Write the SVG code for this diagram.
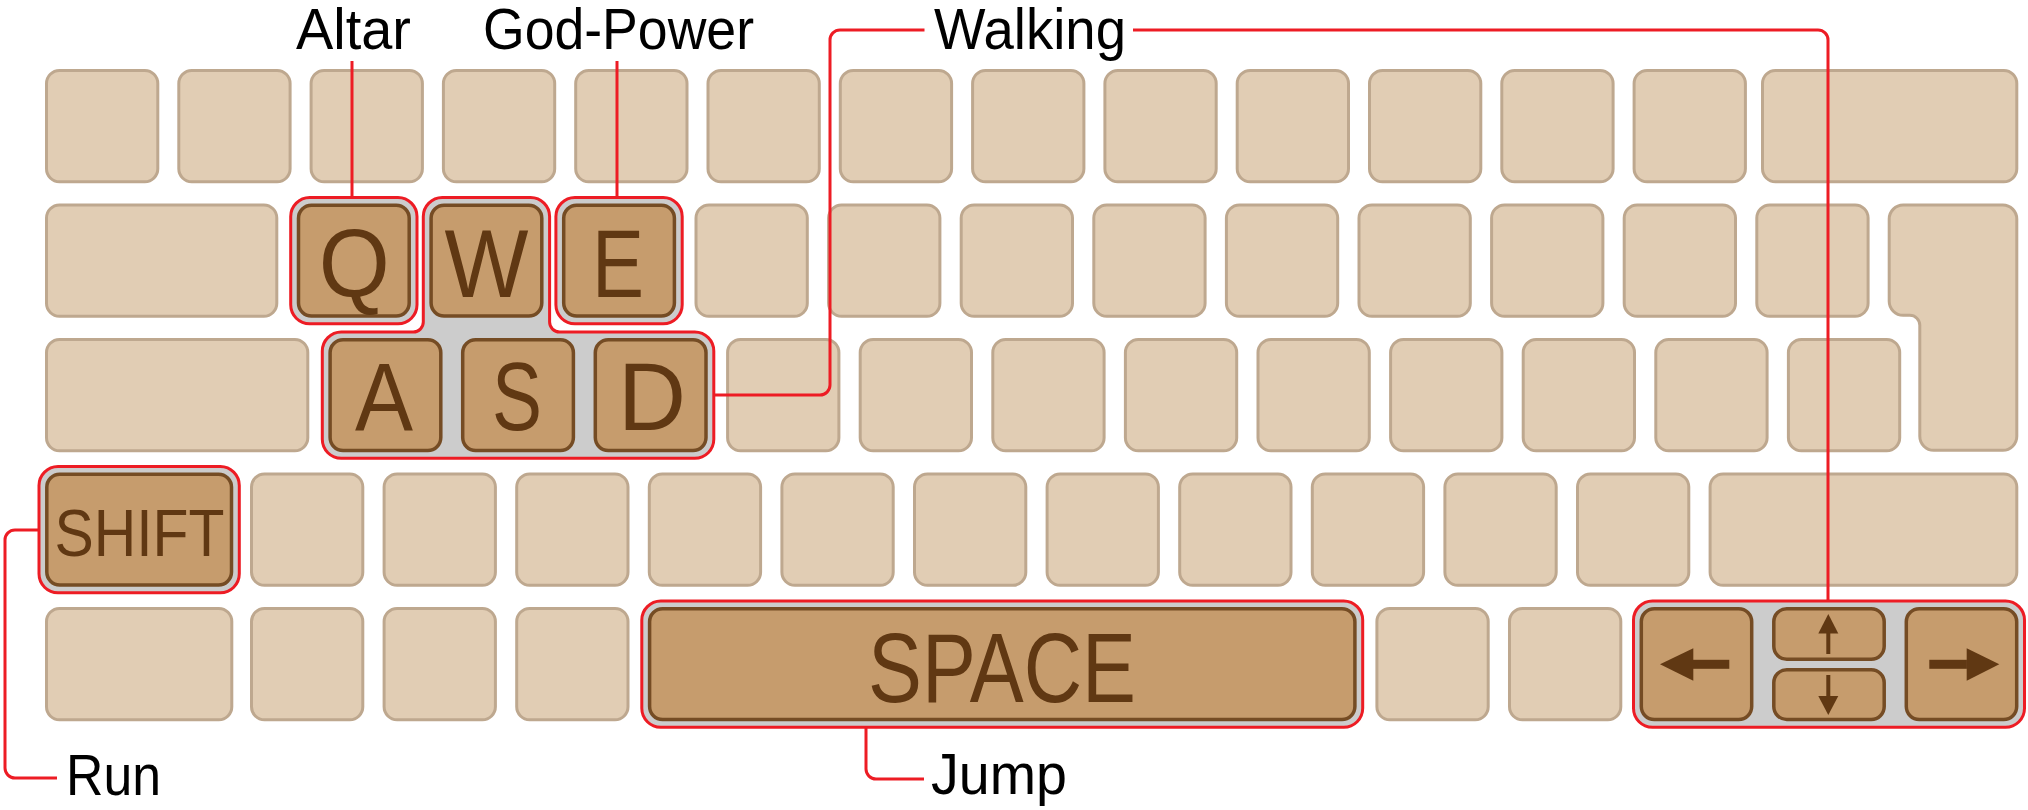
<svg xmlns="http://www.w3.org/2000/svg" width="2028" height="810" viewBox="0 0 2028 810">
<style>
.k{fill:#E1CDB4;stroke:#BEA88F;stroke-width:3}
.h{fill:#C69C6D;stroke:#754C24;stroke-width:3.5}
.halo{fill:#CCCCCC;stroke:#ED1C24;stroke-width:3}
.con{fill:none;stroke:#ED1C24;stroke-width:3}
.lbl{font-family:"Liberation Sans",Arial,sans-serif;font-size:58px;fill:#000}
.kt{font-family:"Liberation Sans",Arial,sans-serif;fill:#603813;text-anchor:middle}
.ar{fill:#603813}
</style>
<rect width="2028" height="810" fill="#fff"/>
<g id="plain-keys">
<!-- row 1 -->
<rect class="k" x="46.5" y="70.5" width="111.3" height="111.3" rx="13"/>
<rect class="k" x="178.8" y="70.5" width="111.3" height="111.3" rx="13"/>
<rect class="k" x="311.1" y="70.5" width="111.3" height="111.3" rx="13"/>
<rect class="k" x="443.4" y="70.5" width="111.3" height="111.3" rx="13"/>
<rect class="k" x="575.7" y="70.5" width="111.3" height="111.3" rx="13"/>
<rect class="k" x="708" y="70.5" width="111.3" height="111.3" rx="13"/>
<rect class="k" x="840.3" y="70.5" width="111.3" height="111.3" rx="13"/>
<rect class="k" x="972.6" y="70.5" width="111.3" height="111.3" rx="13"/>
<rect class="k" x="1104.9" y="70.5" width="111.3" height="111.3" rx="13"/>
<rect class="k" x="1237.2" y="70.5" width="111.3" height="111.3" rx="13"/>
<rect class="k" x="1369.5" y="70.5" width="111.3" height="111.3" rx="13"/>
<rect class="k" x="1501.8" y="70.5" width="111.3" height="111.3" rx="13"/>
<rect class="k" x="1634.1" y="70.5" width="111.3" height="111.3" rx="13"/>
<rect class="k" x="1762.5" y="70.5" width="254.3" height="111.3" rx="13"/>
<!-- row 2 -->
<rect class="k" x="46.5" y="205" width="230.3" height="111.3" rx="13"/>
<rect class="k" x="696" y="205" width="111.3" height="111.3" rx="13"/>
<rect class="k" x="828.6" y="205" width="111.3" height="111.3" rx="13"/>
<rect class="k" x="961.2" y="205" width="111.3" height="111.3" rx="13"/>
<rect class="k" x="1093.8" y="205" width="111.3" height="111.3" rx="13"/>
<rect class="k" x="1226.4" y="205" width="111.3" height="111.3" rx="13"/>
<rect class="k" x="1359" y="205" width="111.3" height="111.3" rx="13"/>
<rect class="k" x="1491.6" y="205" width="111.3" height="111.3" rx="13"/>
<rect class="k" x="1624.2" y="205" width="111.3" height="111.3" rx="13"/>
<rect class="k" x="1756.8" y="205" width="111.3" height="111.3" rx="13"/>
<path class="k" d="M1903.2,205 H2002.8 A14,14 0 0 1 2016.8,219 V436.3 A14,14 0 0 1 2002.8,450.3 H1933.8 A14,14 0 0 1 1919.8,436.3 V325.3 A10,10 0 0 0 1909.8,315.3 H1903.2 A14,14 0 0 1 1889.2,301.3 V219 A14,14 0 0 1 1903.2,205 Z"/>
<!-- row 3 -->
<rect class="k" x="46.5" y="339.5" width="261.3" height="111.3" rx="13"/>
<rect class="k" x="727.6" y="339.5" width="111.3" height="111.3" rx="13"/>
<rect class="k" x="860.2" y="339.5" width="111.3" height="111.3" rx="13"/>
<rect class="k" x="992.8" y="339.5" width="111.3" height="111.3" rx="13"/>
<rect class="k" x="1125.4" y="339.5" width="111.3" height="111.3" rx="13"/>
<rect class="k" x="1258" y="339.5" width="111.3" height="111.3" rx="13"/>
<rect class="k" x="1390.6" y="339.5" width="111.3" height="111.3" rx="13"/>
<rect class="k" x="1523.2" y="339.5" width="111.3" height="111.3" rx="13"/>
<rect class="k" x="1655.8" y="339.5" width="111.3" height="111.3" rx="13"/>
<rect class="k" x="1788.4" y="339.5" width="111.3" height="111.3" rx="13"/>
<!-- row 4 -->
<rect class="k" x="251.5" y="474" width="111.3" height="111.3" rx="13"/>
<rect class="k" x="384.1" y="474" width="111.3" height="111.3" rx="13"/>
<rect class="k" x="516.7" y="474" width="111.3" height="111.3" rx="13"/>
<rect class="k" x="649.3" y="474" width="111.3" height="111.3" rx="13"/>
<rect class="k" x="781.9" y="474" width="111.3" height="111.3" rx="13"/>
<rect class="k" x="914.5" y="474" width="111.3" height="111.3" rx="13"/>
<rect class="k" x="1047.1" y="474" width="111.3" height="111.3" rx="13"/>
<rect class="k" x="1179.7" y="474" width="111.3" height="111.3" rx="13"/>
<rect class="k" x="1312.3" y="474" width="111.3" height="111.3" rx="13"/>
<rect class="k" x="1444.9" y="474" width="111.3" height="111.3" rx="13"/>
<rect class="k" x="1577.5" y="474" width="111.3" height="111.3" rx="13"/>
<rect class="k" x="1710.1" y="474" width="306.7" height="111.3" rx="13"/>
<!-- row 5 -->
<rect class="k" x="46.5" y="608.5" width="185.3" height="111.3" rx="13"/>
<rect class="k" x="251.5" y="608.5" width="111.3" height="111.3" rx="13"/>
<rect class="k" x="384.1" y="608.5" width="111.3" height="111.3" rx="13"/>
<rect class="k" x="516.7" y="608.5" width="111.3" height="111.3" rx="13"/>
<rect class="k" x="1376.9" y="608.5" width="111.3" height="111.3" rx="13"/>
<rect class="k" x="1509.5" y="608.5" width="111.3" height="111.3" rx="13"/>
</g>

<g id="altar-key">
<rect class="halo" x="290.7" y="197.5" width="126.3" height="126.3" rx="19"/>
<rect class="h" x="298.5" y="205.3" width="110.7" height="110.7" rx="13"/>
<text class="kt" x="354.2" y="296.7" font-size="97" textLength="71" lengthAdjust="spacingAndGlyphs">Q</text>
</g>
<g id="godpower-key">
<rect class="halo" x="555.9" y="197.5" width="126.3" height="126.3" rx="19"/>
<rect class="h" x="563.7" y="205.3" width="110.7" height="110.7" rx="13"/>
<text class="kt" x="618" y="296.7" font-size="97" textLength="52" lengthAdjust="spacingAndGlyphs">E</text>
</g>
<g id="walking-keys">
<path class="halo" d="M341.3,332 H413.3 A10,10 0 0 0 423.3,322 V216.5 A19,19 0 0 1 442.3,197.5 H530.6 A19,19 0 0 1 549.6,216.5 V322 A10,10 0 0 0 559.6,332 H694.8 A19,19 0 0 1 713.8,351 V439.3 A19,19 0 0 1 694.8,458.3 H341.3 A19,19 0 0 1 322.3,439.3 V351 A19,19 0 0 1 341.3,332 Z"/>
<rect class="h" x="431.1" y="205.3" width="110.7" height="110.7" rx="13"/>
<rect class="h" x="330.1" y="339.8" width="110.7" height="110.7" rx="13"/>
<rect class="h" x="462.7" y="339.8" width="110.7" height="110.7" rx="13"/>
<rect class="h" x="595.3" y="339.8" width="110.7" height="110.7" rx="13"/>
<text class="kt" x="486.5" y="296.7" font-size="97" textLength="84" lengthAdjust="spacingAndGlyphs">W</text>
<text class="kt" x="384" y="430" font-size="97" textLength="58" lengthAdjust="spacingAndGlyphs">A</text>
<text class="kt" x="517" y="430" font-size="97" textLength="50" lengthAdjust="spacingAndGlyphs">S</text>
<text class="kt" x="652" y="430" font-size="97" textLength="68" lengthAdjust="spacingAndGlyphs">D</text>
</g>
<g id="run-key">
<rect class="halo" x="39" y="466.5" width="200.3" height="126.3" rx="19"/>
<rect class="h" x="46.8" y="474.3" width="184.7" height="110.7" rx="13"/>
<text class="kt" x="139.5" y="556" font-size="67.5" textLength="170" lengthAdjust="spacingAndGlyphs">SHIFT</text>
</g>
<g id="jump-key">
<rect class="halo" x="641.8" y="601" width="720.9" height="126.3" rx="19"/>
<rect class="h" x="649.6" y="608.8" width="705.3" height="110.7" rx="13"/>
<text class="kt" x="1002" y="701.7" font-size="99" textLength="268" lengthAdjust="spacingAndGlyphs">SPACE</text>
</g>
<g id="arrow-keys">
<rect class="halo" x="1633.5" y="601" width="391" height="126.3" rx="19"/>
<rect class="h" x="1641.3" y="608.8" width="110.4" height="110.7" rx="13"/>
<rect class="h" x="1773.8" y="608.8" width="110.4" height="50.5" rx="13"/>
<rect class="h" x="1773.8" y="669.8" width="110.4" height="49.7" rx="13"/>
<rect class="h" x="1906.3" y="608.8" width="110.4" height="110.7" rx="13"/>
<polygon class="ar" points="1660,664.3 1693.3,648.3 1693.3,680.7"/>
<rect class="ar" x="1693" y="659.8" width="36.3" height="9"/>
<rect class="ar" x="1929.3" y="659.8" width="37.6" height="9"/>
<polygon class="ar" points="1999.3,664.3 1966.7,648.3 1966.7,680.7"/>
<polygon class="ar" points="1828.3,614 1818.3,633.5 1838.3,633.5"/>
<rect class="ar" x="1826.3" y="633" width="4" height="21"/>
<rect class="ar" x="1826.3" y="675" width="4" height="21.5"/>
<polygon class="ar" points="1818.3,696 1838.3,696 1828.3,715"/>
</g>

<g id="connectors">
<path class="con" d="M352,61 V197.5"/>
<path class="con" d="M617,61 V197.5"/>
<path class="con" d="M713.8,395 H820 A10,10 0 0 0 830,385 V40 A10,10 0 0 1 840,30 H924.5"/>
<path class="con" d="M1133,30 H1818 A10,10 0 0 1 1828,40 V601"/>
<path class="con" d="M39,530 H15 A10,10 0 0 0 5,540 V768 A10,10 0 0 0 15,778 H57"/>
<path class="con" d="M866,727.3 V769 A10,10 0 0 0 876,779 H924"/>
</g>

<g id="label-altar"><text class="lbl" x="296" y="49" textLength="115" lengthAdjust="spacingAndGlyphs">Altar</text></g>
<g id="label-godpower"><text class="lbl" x="483" y="49" textLength="271" lengthAdjust="spacingAndGlyphs">God-Power</text></g>
<g id="label-walking"><text class="lbl" x="934" y="49" textLength="192" lengthAdjust="spacingAndGlyphs">Walking</text></g>
<g id="label-run"><text class="lbl" x="66" y="795" textLength="95" lengthAdjust="spacingAndGlyphs">Run</text></g>
<g id="label-jump"><text class="lbl" x="931" y="794" textLength="136" lengthAdjust="spacingAndGlyphs">Jump</text></g>
</svg>
